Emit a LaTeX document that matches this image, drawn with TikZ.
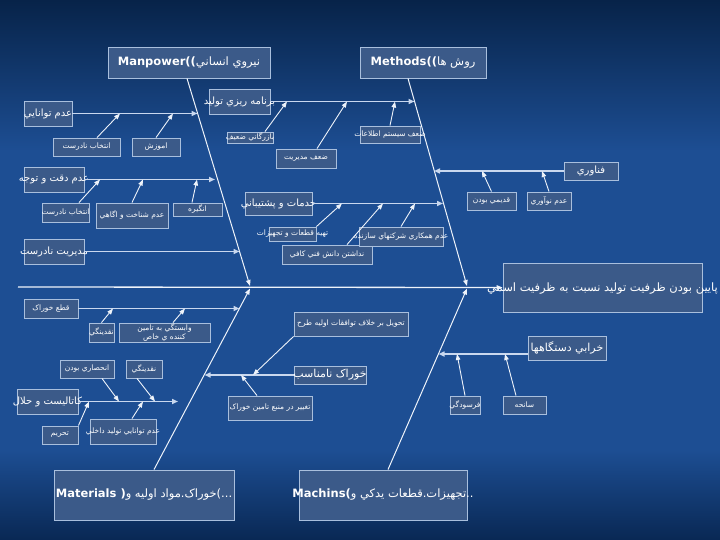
\documentclass[tikz,border=0pt]{standalone}
\usepackage{fontspec}
\setmainfont{DejaVu Sans}
\newfontfamily\fa[Script=Arabic]{DejaVu Sans}
\TeXXeTstate=1
\usetikzlibrary{calc,arrows.meta,positioning}
\definecolor{boxfill}{HTML}{3B5A89}
\definecolor{boxline}{HTML}{A9BFDD}
\definecolor{bonecol}{HTML}{EEF3FA}
\definecolor{ribcol}{HTML}{C9D8EF}
\definecolor{bgtop}{HTML}{072349}
\definecolor{bgmid}{HTML}{1D4E93}
\definecolor{bgbot}{HTML}{092854}
\tikzset{
  cbox/.style={draw=boxline, fill=boxfill, line width=0.9pt, inner sep=0pt},
  smalltxt/.style={text=white, inner sep=0pt, font=\fa\fontsize{7.5}{9}\selectfont},
  cattxt/.style={text=white, inner sep=0pt, font=\fa\fontsize{10}{12}\selectfont},
  bigcattxt/.style={text=white, inner sep=0pt, font=\fa\fontsize{11}{13}\selectfont},
  ttltxt/.style={text=white, inner sep=0pt, font=\fa\fontsize{11.5}{14}\selectfont},
  headtxt/.style={text=white, inner sep=0pt, font=\fa\fontsize{11.5}{14}\selectfont},
  bone/.style={draw=bonecol, line width=1pt, -{Triangle[length=6pt,width=4.5pt]}},
  rib/.style={draw=ribcol, line width=1.8pt, -{Triangle[length=6pt,width=5pt]}},
  twig/.style={draw=bonecol, line width=0.9pt, -{Triangle[length=6pt,width=4.5pt]}}
}
\begin{document}
\begin{tikzpicture}[x=1pt,y=-1pt]
\useasboundingbox (0,0) rectangle (720,540);
\shade[top color=bgtop, bottom color=bgmid] (0,0) rectangle (720,151);
\fill[bgmid] (0,150) rectangle (720,451);
\shade[top color=bgmid, bottom color=bgbot] (0,450) rectangle (720,540);

% head and main categories
\node[cbox, minimum width=199pt, minimum height=49pt, label={[headtxt, yshift=-1.5pt]center:{\beginR پايين بودن ظرفيت توليد نسبت به ظرفيت اسمي\endR}}] (head) at (602.5,287.5) {};
\node[cbox, minimum width=162pt, minimum height=31pt, label={[ttltxt]center:{{\bfseries Manpower((}\beginR نيروي انساني\endR}}] (man) at (189,62.5) {};
\node[cbox, minimum width=126pt, minimum height=31pt, label={[ttltxt]center:{{\bfseries Methods((}\beginR روش ها\endR}}] (meth) at (423,62.5) {};
\node[cbox, minimum width=180pt, minimum height=50pt, label={[ttltxt]center:{{\bfseries Materials (}\beginR خوراک.مواد اوليه و\endR...)}}] (mat) at (144,495) {};
\node[cbox, minimum width=168pt, minimum height=50pt, label={[ttltxt]center:{{\bfseries Machins(}\beginR تجهيزات.قطعات يدکي و\endR..}}] (mach) at (383,495) {};

% spine and main bones
\coordinate (manend) at (250,286);
\coordinate (methend) at (467,286);
\coordinate (matend) at (250,288.5);
\coordinate (machend) at (467,288.5);
\draw[bone, line width=1.3pt] (18,287) coordinate (tail) -- (head.west);
\draw[bone] ($(man.south)+(-2,0)$) -- (manend);
\draw[bone] ($(meth.south)+(-15,0)$) -- (methend);
\draw[bone] ($(mat.north)+(10,0)$) -- (matend);
\draw[bone] ($(mach.north)+(5,0)$) -- (machend);

% manpower causes
\node[cbox, minimum width=48pt, minimum height=25pt, label={[cattxt]center:{\beginR عدم توانايي\endR}}] (tav) at (48,113.5) {};
\node[cbox, minimum width=60pt, minimum height=25pt, label={[cattxt]center:{\beginR عدم دقت و توجه\endR}}] (deqat) at (54,179.5) {};
\node[cbox, minimum width=60pt, minimum height=25pt, label={[cattxt]center:{\beginR مديريت نادرست\endR}}] (modir) at (54,251.5) {};
\coordinate (tavend) at (197.5,113.5);
\coordinate (deqatend) at (215,179.5);
\coordinate (modirend) at (239.5,251.5);
\draw[rib] (tav.east) -- (tavend);
\draw[rib] (deqat.east) -- (deqatend);
\draw[rib] (modir.east) -- (modirend);

\node[cbox, minimum width=67pt, minimum height=18pt, label={[smalltxt]center:{\beginR انتخاب نادرست\endR}}] (ent1) at (86.5,147) {};
\node[cbox, minimum width=48pt, minimum height=18pt, label={[smalltxt]center:{\beginR اموزش\endR}}] (amuz) at (156,147) {};
\node[cbox, minimum width=47pt, minimum height=19pt, label={[smalltxt]center:{\beginR انتخاب نادرست\endR}}] (ent2) at (65.5,212.5) {};
\node[cbox, minimum width=72pt, minimum height=25pt, label={[smalltxt]center:{\beginR عدم شناخت و اگاهي\endR}}] (shen) at (132,215.5) {};
\node[cbox, minimum width=49pt, minimum height=13pt, label={[smalltxt]center:{\beginR انگيره\endR}}] (angiz) at (197.5,209.5) {};
\draw[twig] ($(ent1.north)+(10.5,0)$) -- (120,113.5) coordinate (t1);
\draw[twig] (amuz.north) -- (173,113.5) coordinate (t2);
\draw[twig] ($(ent2.north)+(13.5,0)$) -- (100,179.5) coordinate (t3);
\draw[twig] (shen.north) -- (143,179.5) coordinate (t4);
\draw[twig] ($(angiz.north)+(-5.5,0)$) -- (197,179.5) coordinate (t5);

% methods causes
\node[cbox, minimum width=61pt, minimum height=25pt, label={[cattxt]center:{\beginR برنامه ريزي توليد\endR}}] (barn) at (239.5,101.5) {};
\node[cbox, minimum width=67pt, minimum height=23pt, label={[cattxt]center:{\beginR خدمات و پشتيباني\endR}}] (khad) at (278.5,203.5) {};
\node[cbox, minimum width=54pt, minimum height=18pt, label={[cattxt]center:{\beginR فناوري\endR}}] (fan) at (591,171) {};
\coordinate (barnend) at (414.5,101.5);
\coordinate (khadend) at (443,203.5);
\coordinate (fanend) at (434,171);
\draw[rib] (barn.east) -- (barnend);
\draw[rib] (khad.east) -- (khadend);
\draw[rib] (fan.west) -- (fanend);

\node[cbox, minimum width=46pt, minimum height=11pt, label={[smalltxt]center:{\beginR بازرگاني ضعيف\endR}}] (bazr) at (250,137.5) {};
\node[cbox, minimum width=60pt, minimum height=19pt, label={[smalltxt]center:{\beginR ضعف مديريت\endR}}] (zmod) at (306,158.5) {};
\node[cbox, minimum width=60pt, minimum height=17pt, label={[smalltxt]center:{\beginR ضعف سيستم اطلاعات\endR}}] (zsys) at (390,134.5) {};
\node[cbox, minimum width=47pt, minimum height=14pt, label={[smalltxt]center:{\beginR تهيه قطعات و تجهيزات\endR}}] (tahie) at (292.5,234) {};
\node[cbox, minimum width=90pt, minimum height=19pt, label={[smalltxt]center:{\beginR نداشتن دانش فني کافي\endR}}] (danesh) at (327,254.5) {};
\node[cbox, minimum width=84pt, minimum height=19pt, label={[smalltxt]center:{\beginR عدم همکاري شرکتهاي سازنده\endR}}] (hamk) at (401,236.5) {};
\node[cbox, minimum width=49pt, minimum height=18pt, label={[smalltxt]center:{\beginR قديمي بودن\endR}}] (qadim) at (491.5,201) {};
\node[cbox, minimum width=44pt, minimum height=18pt, label={[smalltxt]center:{\beginR عدم نوآوري\endR}}] (noav) at (549,201) {};
\draw[twig] ($(bazr.north)+(15,0)$) -- (287,101.5) coordinate (t6);
\draw[twig] ($(zmod.north)+(11,0)$) -- (347,101.5) coordinate (t7);
\draw[twig] (zsys.north) -- (395,101.5) coordinate (t8);
\draw[twig] (tahie.north east) -- (342,203.5) coordinate (t9);
\draw[twig] ($(danesh.north)+(20,0)$) -- (383,203.5) coordinate (t10);
\draw[twig] (hamk.north) -- (415,203.5) coordinate (t11);
\draw[twig] (qadim.north) -- (482,171) coordinate (t12);
\draw[twig] (noav.north) -- (542,171) coordinate (t13);

% materials causes
\node[cbox, minimum width=54pt, minimum height=19pt, label={[smalltxt]center:{\beginR قطع خوراک\endR}}] (qat) at (51,308.5) {};
\node[cbox, minimum width=61pt, minimum height=25pt, label={[cattxt]center:{\beginR کاتاليست و حلال\endR}}] (kat) at (47.5,401.5) {};
\node[cbox, minimum width=72pt, minimum height=18pt, label={[bigcattxt]center:{\beginR خوراک نامناسب\endR}}] (khor) at (330,375) {};
\coordinate (qatend) at (239.5,308.5);
\coordinate (katend) at (178,401.5);
\coordinate (khorend) at (204.5,375);
\draw[rib] (qat.east) -- (qatend);
\draw[rib] (kat.east) -- (katend);
\draw[rib] (khor.west) -- (khorend);

\node[cbox, minimum width=25pt, minimum height=19pt, label={[smalltxt]center:{\beginR نقدينگي\endR}}] (naq1) at (101.5,332.5) {};
\node[cbox, minimum width=91pt, minimum height=19pt, label={[smalltxt, align=center]center:{\beginR وابستگي به تامين\endR\\\beginR کننده ي خاص\endR}}] (vabas) at (164.5,332.5) {};
\node[cbox, minimum width=54pt, minimum height=18pt, label={[smalltxt]center:{\beginR انحصاري بودن\endR}}] (enhes) at (87,369) {};
\node[cbox, minimum width=36pt, minimum height=18pt, label={[smalltxt]center:{\beginR نقدينگي\endR}}] (naq2) at (144,369) {};
\node[cbox, minimum width=36pt, minimum height=18pt, label={[smalltxt]center:{\beginR تحريم\endR}}] (tahrim) at (60,435) {};
\node[cbox, minimum width=66pt, minimum height=25pt, label={[smalltxt]center:{\beginR عدم توانايي توليد داخلي\endR}}] (dakhel) at (123,431.5) {};
\node[cbox, minimum width=114pt, minimum height=24pt, label={[smalltxt]center:{\beginR تحويل بر خلاف توافقات اوليه طرح\endR}}] (tahvil) at (351,324) {};
\node[cbox, minimum width=84pt, minimum height=24pt, label={[smalltxt]center:{\beginR تغيير در منبع تامين خوراک\endR}}] (taqir) at (270,408) {};
\draw[twig] (naq1.north) -- (113,308.5) coordinate (t14);
\draw[twig] ($(vabas.north)+(8.5,0)$) -- (185,308.5) coordinate (t15);
\draw[twig] ($(enhes.south)+(15,0)$) -- (119,401.5) coordinate (t16);
\draw[twig] ($(naq2.south)+(-7,0)$) -- (155,401.5) coordinate (t17);
\draw[twig] (tahrim.north east) -- (89,401.5) coordinate (t18);
\draw[twig] ($(dakhel.north)+(9,0)$) -- (143,401.5) coordinate (t19);
\draw[twig] (tahvil.south west) -- (253,375) coordinate (t20);
\draw[twig] ($(taqir.north)+(-13,0)$) -- (241,375) coordinate (t21);

% machines causes
\node[cbox, minimum width=78pt, minimum height=24pt, label={[bigcattxt]center:{\beginR خرابي دستگاهها\endR}}] (kharab) at (567,348) {};
\coordinate (kharabend) at (438.5,354);
\draw[rib] ($(kharab.west)+(0,6)$) -- (kharabend);
\node[cbox, minimum width=30pt, minimum height=18pt, label={[smalltxt]center:{\beginR فرسودگي\endR}}] (farsud) at (465,405) {};
\node[cbox, minimum width=43pt, minimum height=18pt, label={[smalltxt]center:{\beginR سانحه\endR}}] (sanehe) at (524.5,405) {};
\draw[twig] (farsud.north) -- (457,354) coordinate (t22);
\draw[twig] ($(sanehe.north)+(-8.5,0)$) -- (505,354) coordinate (t23);
\end{tikzpicture}
\end{document}
